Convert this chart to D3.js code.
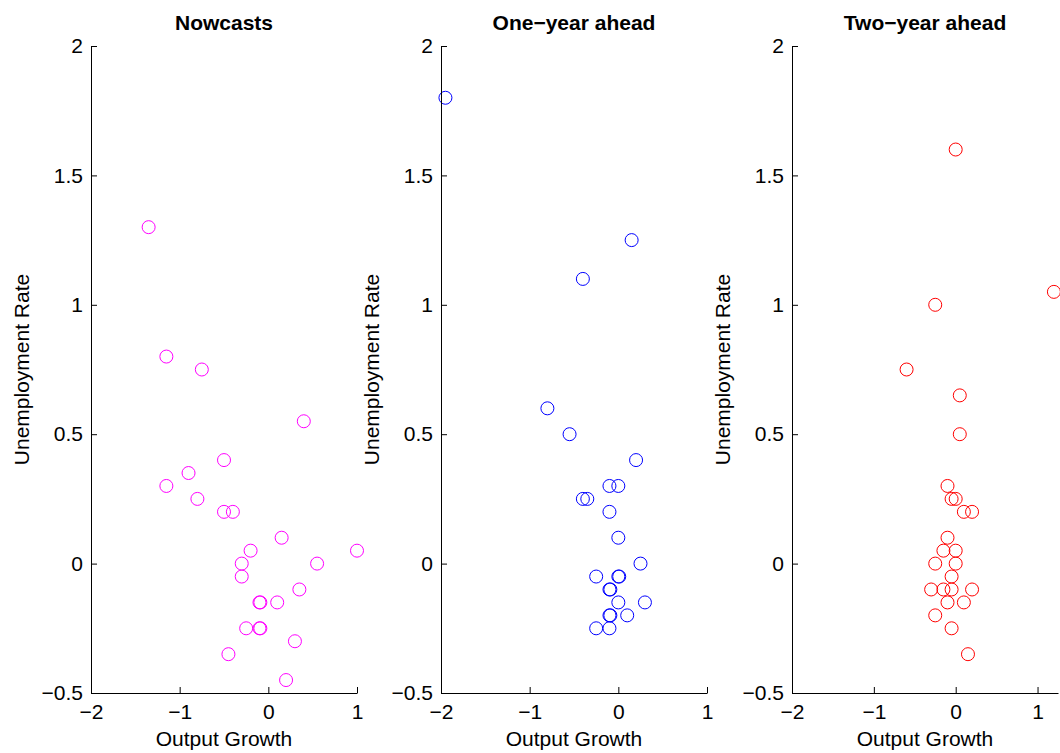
<!DOCTYPE html>
<html>
<head>
<meta charset="utf-8">
<script src="https://cdn.jsdelivr.net/npm/d3@7"></script>
<style>
  body { margin: 0; background: #fff; }
  svg { display: block; font-family: "Liberation Sans", Arial, Helvetica, sans-serif; }
  .tick text { font-size: 21px; fill: #000; }
  .tick line, .domain { stroke: #000; stroke-width: 1; }
</style>
</head>
<body>
<svg id="chart"></svg>
<script>
// panel titles and colours
const titles = ["Nowcasts", "One\u2212year ahead", "Two\u2212year ahead"];
const colors = ["#ff00ff", "#0000ff", "#ff0000"];
const xMax = [1, 1, 1.25];

const xTicks = [-2, -1, 0, 1];
const yTicks = [-0.5, 0, 0.5, 1, 1.5, 2];

// nowcasts: output growth / unemployment rate
const nowX = [-1.35, -1.15, -0.75, 0.40, -0.50, -0.90, -1.15, -0.80, -0.50, -0.40,
  0.15, -0.20, 1.00, -0.30, 0.55, -0.30, 0.35, -0.10, -0.09, 0.10,
  -0.25, -0.10, -0.09, 0.30, -0.45, 0.20];
const nowY = [1.30, 0.80, 0.75, 0.55, 0.40, 0.35, 0.30, 0.25, 0.20, 0.20,
  0.10, 0.05, 0.05, 0.00, 0.00, -0.05, -0.10, -0.15, -0.15, -0.15,
  -0.25, -0.25, -0.25, -0.30, -0.35, -0.45];

// one-year ahead
const oneX = [-1.95, 0.15, -0.40, -0.80, -0.55, 0.20, -0.10, 0.00, -0.40, -0.35,
  -0.10, 0.00, 0.25, -0.25, 0.00, 0.01, -0.10, -0.09, 0.00, 0.30,
  -0.10, -0.09, 0.10, -0.25, -0.10];
const oneY = [1.80, 1.25, 1.10, 0.60, 0.50, 0.40, 0.30, 0.30, 0.25, 0.25,
  0.20, 0.10, 0.00, -0.05, -0.05, -0.05, -0.10, -0.10, -0.15, -0.15,
  -0.20, -0.20, -0.20, -0.25, -0.25];

// two-year ahead
const twoX = [0.00, 1.20, -0.25, -0.60, 0.05, 0.05, -0.10, -0.05, 0.00, 0.10,
  0.20, -0.10, -0.15, 0.00, -0.25, 0.00, -0.05, -0.30, -0.15, -0.05,
  0.20, -0.10, 0.10, -0.25, -0.05, 0.15];
const twoY = [1.60, 1.05, 1.00, 0.75, 0.65, 0.50, 0.30, 0.25, 0.25, 0.20,
  0.20, 0.10, 0.05, 0.05, 0.00, 0.00, -0.05, -0.10, -0.10, -0.10,
  -0.10, -0.15, -0.15, -0.20, -0.25, -0.35];

const seriesX = [nowX, oneX, twoX];
const seriesY = [nowY, oneY, twoY];

const W = 1060, H = 753;
const lefts = [91, 441, 792];
const pw = 266;
const plotTop = 46, plotBottom = 693;

const svg = d3.select("#chart").attr("width", W).attr("height", H);

const y = d3.scaleLinear().domain([-0.5, 2]).range([plotBottom, plotTop]);
const fmt = d => d3.format("")(d).replace("-", "\u2212");

titles.forEach((t, i) => {
  const x = d3.scaleLinear().domain([-2, xMax[i]]).range([0, pw]);
  const g = svg.append("g").attr("transform", `translate(${lefts[i]},0)`);

  // points
  const pts = seriesX[i].map((v, j) => ({x: v, y: seriesY[i][j]}));
  g.selectAll("circle").data(pts).join("circle")
    .attr("cx", d => x(d.x))
    .attr("cy", d => y(d.y))
    .attr("r", 6.5)
    .attr("fill", "none")
    .attr("stroke", colors[i])
    .attr("stroke-width", 1);

  // axes, ticks pointing in
  g.append("g")
    .attr("transform", `translate(0,${plotBottom})`)
    .call(d3.axisBottom(x).tickValues(xTicks).tickSizeInner(-6).tickSizeOuter(0).tickPadding(11).tickFormat(fmt))
    .call(a => a.attr("font-family", null).attr("font-size", null));

  g.append("g")
    .call(d3.axisLeft(y).tickValues(yTicks).tickSizeInner(-6).tickSizeOuter(0).tickPadding(8).tickFormat(fmt))
    .call(a => a.attr("font-family", null).attr("font-size", null));

  // title
  g.append("text")
    .attr("x", pw / 2).attr("y", 30)
    .attr("text-anchor", "middle")
    .attr("font-size", 21).attr("font-weight", "bold")
    .text(t);

  // axis labels
  g.append("text")
    .attr("x", pw / 2).attr("y", 746)
    .attr("text-anchor", "middle")
    .attr("font-size", 21)
    .text("Output Growth");

  g.append("text")
    .attr("transform", `translate(-62,${(plotTop + plotBottom) / 2}) rotate(-90)`)
    .attr("text-anchor", "middle")
    .attr("font-size", 21)
    .text("Unemployment Rate");
});
</script>
</body>
</html>
